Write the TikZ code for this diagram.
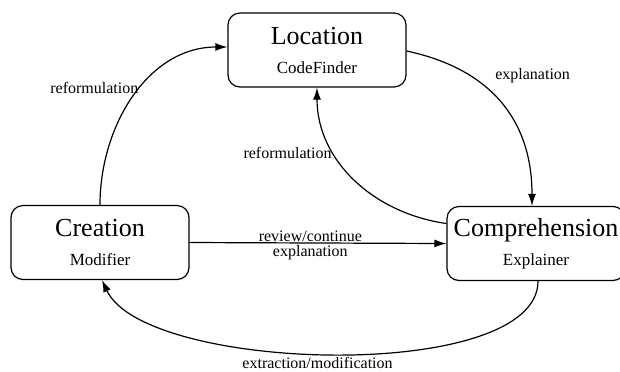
\documentclass[tikz,border=0pt]{standalone}
\usepackage{fontspec}
\setmainfont{Liberation Serif}
\usetikzlibrary{arrows.meta}

\newcommand{\phasetext}[2]{{\fontsize{13}{15}\selectfont #1}\\[2.5pt]{\fontsize{8.5}{10}\selectfont #2}}

\begin{document}
\begin{tikzpicture}[x=0.5pt, y=0.5pt,
    phase/.style = {draw, rounded corners=6pt, line width=0.6pt, align=center,
                    minimum width=89pt, minimum height=37pt, inner sep=0pt},
    link/.style  = {line width=0.6pt, -{Latex[length=6pt,width=4pt]}},
    lbl/.style   = {font=\fontsize{8}{9}\selectfont, inner sep=1pt}]
  \useasboundingbox (0,0) rectangle (620,-371);
  % the three phases
  \node [phase] (loc) at (317,-50)    {\phasetext{Location}{CodeFinder}};
  \node [phase] (cre) at (100,-242.5) {\phasetext{Creation}{Modifier}};
  \node [phase] (com) at (536,-243.5) {\phasetext{Comprehension}{Explainer}};
  % transitions
  \draw [link] (cre.north) to [out=90, in=180]
    node [lbl, pos=0.55, anchor=east] {reformulation} ([yshift=1.5pt]loc.west);
  \draw [link] ([yshift=-0.5pt]loc.east) to [out=-12, in=90, looseness=1.1]
    node [lbl, pos=0.3, anchor=west, xshift=11pt] {explanation} ([xshift=-2pt]com.north);
  \draw [link] ([yshift=10pt]com.west) to [out=172, in=-90]
    node [lbl, pos=0.67, anchor=east] {reformulation} (loc.south);
  \draw [link] (cre.east) -- node [lbl, pos=0.47, above, inner sep=0.5pt] {review/continue}
    node [lbl, pos=0.47, below] {explanation} (com.west);
  \draw [link] ([xshift=1pt]com.south) to [out=-90, in=-65, looseness=0.6]
    node [lbl, pos=0.53, below, inner sep=1.5pt] {extraction/modification} ([xshift=1pt]cre.south);
\end{tikzpicture}
\end{document}
